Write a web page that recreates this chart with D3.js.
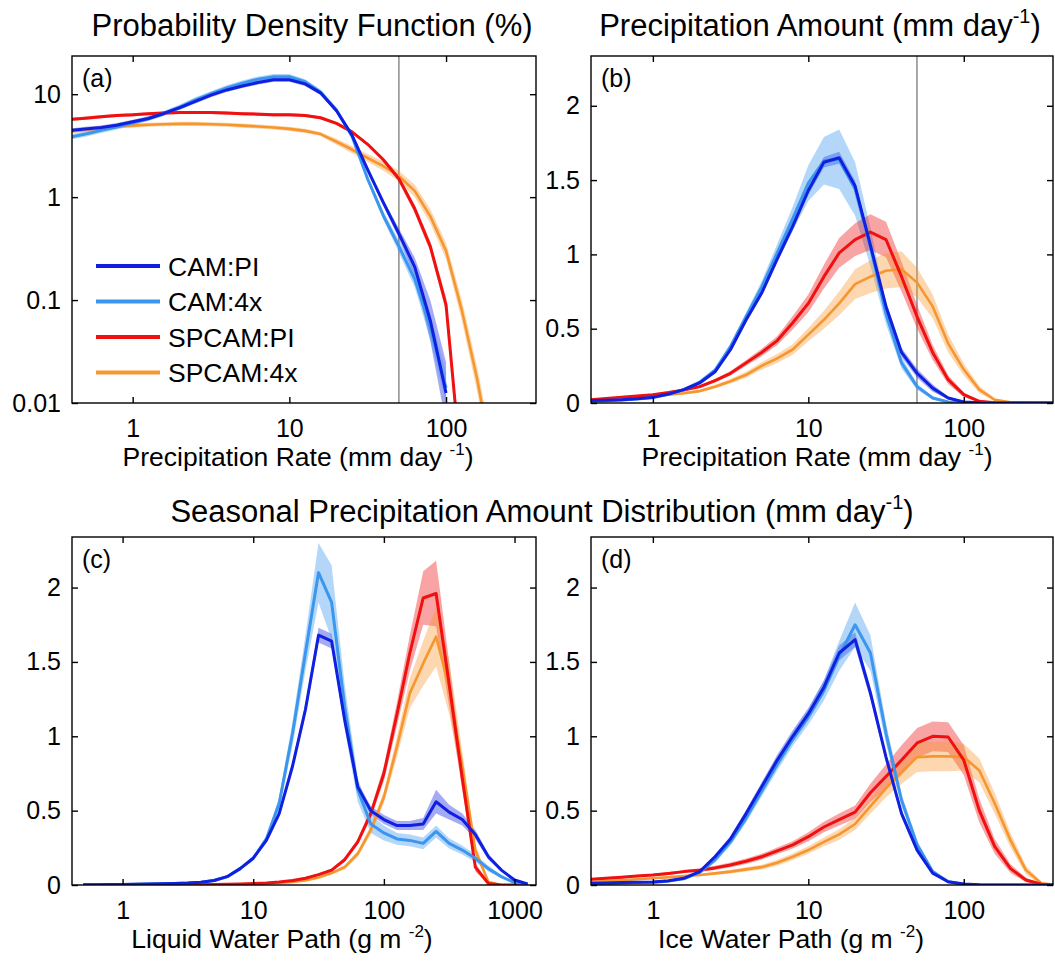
<html>
<head>
<meta charset="utf-8">
<title>Precipitation distributions</title>
<style>
  body { margin: 0; background: #fff; }
  text { font-family: "Liberation Sans", Arial, Helvetica, sans-serif; fill: #000; }
</style>
</head>
<body>
<script src="https://cdn.jsdelivr.net/npm/d3@7"></script>
<script>
// bins (mm/day or g/m2)
var rateBins = [0.4, 0.5, 0.63, 0.79, 1, 1.26, 1.58, 2, 2.51, 3.16, 3.98, 5.01, 6.31, 7.94, 10, 12.6, 15.8, 20, 25.1, 31.6, 39.8, 50.1, 63.1, 79.4, 100, 126, 158, 200, 251, 316, 398];
var lwpBins = [0.5, 0.63, 0.79, 1, 1.26, 1.58, 2, 2.51, 3.16, 3.98, 5.01, 6.31, 7.94, 10, 12.6, 15.8, 20, 25.1, 31.6, 39.8, 50.1, 63.1, 79.4, 100, 126, 158, 200, 251, 316, 398, 501, 631, 794, 1000, 1259];

var seriesNames = ["CAM:PI", "CAM:4x", "SPCAM:PI", "SPCAM:4x"];
var seriesColors = ["#1020e0", "#3a96ee", "#f01010", "#f7962f"];

// (a) PDF (%) - spread in decades
var pdfCamPI = [4.45, 4.6, 4.75, 5.0, 5.4, 5.8, 6.5, 7.4, 8.5, 9.8, 11.0, 12.0, 13.0, 13.8, 13.8, 12.6, 10.3, 6.9, 4.0, 1.85, 0.885, 0.44, 0.21, 0.063, 0.0125, null, null, null, null, null, null];
var pdfCam4x = [3.84, 4.1, 4.45, 4.8, 5.25, 5.8, 6.5, 7.5, 8.8, 10.1, 11.5, 12.8, 14.0, 14.8, 14.8, 13.2, 10.5, 7.0, 3.9, 1.5, 0.66, 0.33, 0.16, 0.054, 0.014, null, null, null, null, null, null];
var pdfSpPI = [5.7, 5.85, 6.05, 6.2, 6.3, 6.45, 6.55, 6.65, 6.65, 6.65, 6.55, 6.45, 6.4, 6.3, 6.3, 6.2, 5.9, 5.2, 4.3, 3.26, 2.31, 1.5, 0.77, 0.33, 0.09, 0.002, null, null, null, null, null];
var pdfSp4x = [4.35, 4.5, 4.7, 4.85, 4.95, 5.05, 5.1, 5.15, 5.15, 5.1, 5.05, 4.95, 4.85, 4.75, 4.6, 4.4, 4.1, 3.45, 2.9, 2.4, 2.0, 1.6, 1.15, 0.65, 0.3, 0.08, 0.017, 0.0025, null, null, null];
var pdfCamPISd = [0.02, 0.02, 0.02, 0.02, 0.02, 0.02, 0.02, 0.02, 0.02, 0.02, 0.02, 0.02, 0.02, 0.02, 0.02, 0.02, 0.02, 0.02, 0.02, 0.02, 0.03, 0.05, 0.09, 0.2, 0.3, 0, 0, 0, 0, 0, 0];
var pdfCam4xSd = [0.025, 0.025, 0.025, 0.025, 0.025, 0.025, 0.025, 0.025, 0.025, 0.025, 0.025, 0.025, 0.025, 0.025, 0.025, 0.025, 0.025, 0.025, 0.025, 0.03, 0.04, 0.06, 0.08, 0.12, 0.15, 0, 0, 0, 0, 0, 0];
var pdfSpPISd = [0.015, 0.015, 0.015, 0.015, 0.015, 0.015, 0.015, 0.015, 0.015, 0.015, 0.015, 0.015, 0.015, 0.015, 0.015, 0.015, 0.015, 0.015, 0.015, 0.015, 0.02, 0.03, 0.04, 0.05, 0.07, 0.1, 0, 0, 0, 0, 0];
var pdfSp4xSd = [0.02, 0.02, 0.02, 0.02, 0.02, 0.02, 0.02, 0.02, 0.02, 0.02, 0.02, 0.02, 0.02, 0.02, 0.02, 0.02, 0.02, 0.03, 0.035, 0.04, 0.045, 0.05, 0.06, 0.07, 0.08, 0.1, 0.12, 0.15, 0, 0, 0];

// (b) precipitation amount (mm/day)
var amtCamPI = [0.016, 0.019, 0.022, 0.029, 0.038, 0.06, 0.09, 0.135, 0.21, 0.36, 0.56, 0.74, 0.97, 1.19, 1.43, 1.62, 1.65, 1.46, 1.06, 0.65, 0.34, 0.2, 0.1, 0.034, 0.007, 0.001, 0, 0, 0, 0, 0];
var amtCam4x = [0.012, 0.015, 0.02, 0.027, 0.036, 0.058, 0.09, 0.14, 0.22, 0.38, 0.58, 0.78, 1.01, 1.24, 1.48, 1.63, 1.64, 1.44, 1.05, 0.6, 0.27, 0.11, 0.034, 0.007, 0.001, 0, 0, 0, 0, 0, 0];
var amtSpPI = [0.022, 0.03, 0.038, 0.047, 0.056, 0.07, 0.088, 0.11, 0.15, 0.2, 0.27, 0.34, 0.42, 0.54, 0.67, 0.85, 1.01, 1.1, 1.15, 1.1, 0.85, 0.58, 0.34, 0.157, 0.056, 0.011, 0.001, 0, 0, 0, 0];
var amtSp4x = [0.016, 0.022, 0.028, 0.036, 0.045, 0.055, 0.066, 0.08, 0.11, 0.146, 0.19, 0.25, 0.3, 0.36, 0.46, 0.56, 0.67, 0.8, 0.85, 0.89, 0.9, 0.81, 0.65, 0.4, 0.225, 0.09, 0.022, 0.005, 0.001, 0, 0];
var amtCamPISd = [0.005, 0.005, 0.005, 0.005, 0.006, 0.007, 0.008, 0.01, 0.012, 0.015, 0.02, 0.02, 0.025, 0.03, 0.03, 0.035, 0.04, 0.035, 0.03, 0.03, 0.03, 0.03, 0.025, 0.01, 0.005, 0, 0, 0, 0, 0, 0];
var amtCam4xSd = [0.004, 0.004, 0.005, 0.005, 0.006, 0.007, 0.008, 0.01, 0.015, 0.02, 0.03, 0.04, 0.06, 0.08, 0.12, 0.16, 0.2, 0.18, 0.13, 0.07, 0.04, 0.02, 0.01, 0.004, 0, 0, 0, 0, 0, 0, 0];
var amtSpPISd = [0.004, 0.004, 0.005, 0.005, 0.006, 0.007, 0.008, 0.01, 0.012, 0.015, 0.02, 0.025, 0.03, 0.045, 0.06, 0.08, 0.1, 0.11, 0.12, 0.12, 0.1, 0.08, 0.05, 0.03, 0.015, 0.005, 0, 0, 0, 0, 0];
var amtSp4xSd = [0.004, 0.004, 0.005, 0.005, 0.006, 0.007, 0.008, 0.01, 0.012, 0.015, 0.02, 0.025, 0.03, 0.035, 0.045, 0.06, 0.08, 0.1, 0.11, 0.12, 0.12, 0.1, 0.08, 0.06, 0.04, 0.025, 0.01, 0.003, 0, 0, 0];

// (c) liquid water path
var lwpCamPI = [0.002, 0.002, 0.003, 0.004, 0.005, 0.006, 0.008, 0.01, 0.013, 0.018, 0.03, 0.056, 0.11, 0.18, 0.3, 0.48, 0.8, 1.18, 1.68, 1.64, 1.11, 0.66, 0.5, 0.44, 0.4, 0.4, 0.41, 0.56, 0.49, 0.44, 0.34, 0.19, 0.1, 0.034, 0.007];
var lwpCam4x = [0.002, 0.002, 0.003, 0.004, 0.005, 0.006, 0.008, 0.01, 0.013, 0.018, 0.03, 0.056, 0.11, 0.18, 0.31, 0.55, 1.02, 1.56, 2.1, 1.9, 1.2, 0.64, 0.41, 0.35, 0.31, 0.3, 0.28, 0.36, 0.28, 0.235, 0.18, 0.11, 0.056, 0.016, 0.005];
var lwpSpPI = [0, 0, 0, 0, 0, 0.001, 0.001, 0.002, 0.002, 0.003, 0.004, 0.005, 0.007, 0.01, 0.014, 0.02, 0.03, 0.045, 0.07, 0.1, 0.17, 0.29, 0.48, 0.75, 1.15, 1.56, 1.93, 1.96, 1.35, 0.72, 0.12, 0.01, 0, 0, 0];
var lwpSp4x = [0, 0, 0, 0, 0, 0, 0.001, 0.001, 0.002, 0.002, 0.003, 0.004, 0.005, 0.007, 0.01, 0.014, 0.02, 0.03, 0.05, 0.08, 0.12, 0.21, 0.37, 0.59, 0.93, 1.29, 1.49, 1.67, 1.33, 0.8, 0.235, 0.02, 0, 0, 0];
var lwpCamPISd = [0.001, 0.001, 0.001, 0.001, 0.001, 0.001, 0.002, 0.002, 0.002, 0.003, 0.004, 0.006, 0.008, 0.01, 0.015, 0.02, 0.03, 0.04, 0.05, 0.05, 0.04, 0.03, 0.03, 0.03, 0.03, 0.03, 0.04, 0.08, 0.05, 0.04, 0.03, 0.02, 0.01, 0.005, 0.002];
var lwpCam4xSd = [0.001, 0.001, 0.001, 0.001, 0.001, 0.001, 0.002, 0.002, 0.002, 0.003, 0.004, 0.006, 0.008, 0.01, 0.02, 0.04, 0.08, 0.12, 0.2, 0.25, 0.15, 0.08, 0.06, 0.05, 0.04, 0.04, 0.04, 0.04, 0.035, 0.03, 0.025, 0.02, 0.01, 0.005, 0.002];
var lwpSpPISd = [0, 0, 0, 0, 0, 0, 0, 0, 0, 0, 0, 0, 0.001, 0.002, 0.003, 0.004, 0.005, 0.006, 0.008, 0.01, 0.015, 0.02, 0.03, 0.05, 0.08, 0.12, 0.18, 0.22, 0.15, 0.08, 0.03, 0.005, 0, 0, 0];
var lwpSp4xSd = [0, 0, 0, 0, 0, 0, 0, 0, 0, 0, 0, 0, 0.001, 0.001, 0.002, 0.003, 0.004, 0.005, 0.007, 0.01, 0.015, 0.02, 0.03, 0.04, 0.07, 0.1, 0.15, 0.2, 0.18, 0.1, 0.04, 0.005, 0, 0, 0];

// (d) ice water path
var iwpCamPI = [0.012, 0.014, 0.016, 0.018, 0.02, 0.028, 0.045, 0.09, 0.19, 0.31, 0.48, 0.66, 0.84, 1.0, 1.15, 1.33, 1.56, 1.65, 1.29, 0.86, 0.48, 0.235, 0.08, 0.022, 0.007, 0.002, 0, 0, 0, 0, 0];
var iwpCam4x = [0.01, 0.012, 0.014, 0.016, 0.018, 0.026, 0.042, 0.085, 0.17, 0.29, 0.45, 0.63, 0.81, 0.98, 1.13, 1.31, 1.54, 1.75, 1.56, 1.02, 0.57, 0.27, 0.09, 0.022, 0.005, 0.001, 0, 0, 0, 0, 0];
var iwpSpPI = [0.038, 0.045, 0.052, 0.06, 0.067, 0.078, 0.09, 0.1, 0.115, 0.135, 0.16, 0.19, 0.23, 0.27, 0.325, 0.39, 0.44, 0.49, 0.62, 0.73, 0.84, 0.955, 1.0, 0.995, 0.84, 0.5, 0.26, 0.11, 0.034, 0.005, 0];
var iwpSp4x = [0.02, 0.026, 0.032, 0.039, 0.045, 0.052, 0.06, 0.067, 0.078, 0.09, 0.105, 0.12, 0.15, 0.19, 0.235, 0.29, 0.34, 0.41, 0.53, 0.65, 0.76, 0.86, 0.865, 0.865, 0.86, 0.77, 0.55, 0.3, 0.1, 0.012, 0];
var iwpCamPISd = [0.004, 0.004, 0.004, 0.004, 0.005, 0.006, 0.008, 0.01, 0.015, 0.02, 0.025, 0.03, 0.035, 0.04, 0.04, 0.045, 0.05, 0.05, 0.04, 0.03, 0.025, 0.02, 0.01, 0.005, 0, 0, 0, 0, 0, 0, 0];
var iwpCam4xSd = [0.004, 0.004, 0.004, 0.004, 0.005, 0.006, 0.008, 0.012, 0.02, 0.025, 0.03, 0.035, 0.04, 0.045, 0.05, 0.07, 0.1, 0.15, 0.12, 0.07, 0.04, 0.03, 0.015, 0.005, 0, 0, 0, 0, 0, 0, 0];
var iwpSpPISd = [0.008, 0.008, 0.008, 0.008, 0.009, 0.01, 0.01, 0.012, 0.014, 0.016, 0.018, 0.02, 0.022, 0.025, 0.03, 0.035, 0.04, 0.045, 0.06, 0.08, 0.1, 0.1, 0.1, 0.1, 0.1, 0.08, 0.05, 0.03, 0.015, 0.005, 0];
var iwpSp4xSd = [0.005, 0.005, 0.006, 0.006, 0.007, 0.008, 0.008, 0.009, 0.01, 0.012, 0.014, 0.016, 0.02, 0.022, 0.025, 0.03, 0.035, 0.04, 0.05, 0.06, 0.08, 0.1, 0.1, 0.1, 0.09, 0.08, 0.07, 0.05, 0.03, 0.01, 0];

var logTicks = [0.01, 0.1, 1, 10];
var linTicks = [0, 0.5, 1, 1.5, 2];

var width = 1055, height = 963;
var svg = d3.select("body").append("svg")
  .attr("width", width)
  .attr("height", height);

var panels = [
  { tag: "(a)", left: 72, right: 536, top: 56, bottom: 403, xDom: [0.41, 375], xTicks: [1, 10, 100],
    logY: true, yDom: [0.01, 23.5], yTicks: logTicks, bins: rateBins, refLine: 50,
    values: [pdfCamPI, pdfCam4x, pdfSpPI, pdfSp4x], spread: [pdfCamPISd, pdfCam4xSd, pdfSpPISd, pdfSp4xSd],
    xLabel: ["Precipitation Rate (mm day ", "-1", ")"], xLabelX: 298 },
  { tag: "(b)", left: 591, right: 1053, top: 56, bottom: 403, xDom: [0.4, 375], xTicks: [1, 10, 100],
    logY: false, yDom: [0, 2.335], yTicks: linTicks, bins: rateBins, refLine: 50,
    values: [amtCamPI, amtCam4x, amtSpPI, amtSp4x], spread: [amtCamPISd, amtCam4xSd, amtSpPISd, amtSp4xSd],
    xLabel: ["Precipitation Rate (mm day ", "-1", ")"], xLabelX: 817 },
  { tag: "(c)", left: 72, right: 536, top: 537, bottom: 885, xDom: [0.41, 1460], xTicks: [1, 10, 100, 1000],
    logY: false, yDom: [0, 2.34], yTicks: linTicks, bins: lwpBins, refLine: null,
    values: [lwpCamPI, lwpCam4x, lwpSpPI, lwpSp4x], spread: [lwpCamPISd, lwpCam4xSd, lwpSpPISd, lwpSp4xSd],
    xLabel: ["Liquid Water Path (g m ", "-2", ")"], xLabelX: 282 },
  { tag: "(d)", left: 591, right: 1053, top: 537, bottom: 885, xDom: [0.4, 375], xTicks: [1, 10, 100],
    logY: false, yDom: [0, 2.34], yTicks: linTicks, bins: rateBins, refLine: null,
    values: [iwpCamPI, iwpCam4x, iwpSpPI, iwpSp4x], spread: [iwpCamPISd, iwpCam4xSd, iwpSpPISd, iwpSp4xSd],
    xLabel: ["Ice Water Path (g m ", "-2", ")"], xLabelX: 791 }
];

// text with a superscript piece
function supText(x, y, size, parts, anchor) {
  var t = svg.append("text")
    .attr("x", x).attr("y", y)
    .attr("font-size", size)
    .attr("text-anchor", anchor || "middle");
  var sup = Math.round(size * 0.65), lift = Math.round(size * 0.42);
  t.append("tspan").text(parts[0]);
  t.append("tspan").attr("font-size", sup).attr("dy", -lift).text(parts[1]);
  t.append("tspan").attr("dy", lift).text(parts[2]);
  return t;
}

panels.forEach(function(p, pi) {
  var x = d3.scaleLog().domain(p.xDom).range([p.left, p.right]);
  var y = (p.logY ? d3.scaleLog() : d3.scaleLinear()).domain(p.yDom).range([p.bottom, p.top]);

  var clipId = "clip" + pi;
  svg.append("clipPath").attr("id", clipId)
    .append("rect")
    .attr("x", p.left).attr("y", p.top)
    .attr("width", p.right - p.left).attr("height", p.bottom - p.top);

  var g = svg.append("g").attr("clip-path", "url(#" + clipId + ")");

  // reference line at 50 mm/day
  if (p.refLine) {
    g.append("line")
      .attr("x1", x(p.refLine)).attr("x2", x(p.refLine))
      .attr("y1", p.top).attr("y2", p.bottom)
      .attr("stroke", "#8c8c8c").attr("stroke-width", 1.5);
  }

  function rows(k) {
    return p.bins.map(function(b, i) {
      var v = p.values[k][i], s = p.spread[k][i];
      var lo, hi;
      if (v == null) { lo = hi = null; }
      else if (p.logY) { lo = v / Math.pow(10, s); hi = v * Math.pow(10, s); }
      else { lo = Math.max(0, v - s); hi = v + s; }
      return { x: b, v: v, lo: lo, hi: hi };
    });
  }

  var area = d3.area()
    .defined(function(d) { return d.v != null; })
    .x(function(d) { return x(d.x); })
    .y0(function(d) { return y(p.logY ? Math.max(d.lo, 1e-4) : d.lo); })
    .y1(function(d) { return y(p.logY ? Math.max(d.hi, 1e-4) : d.hi); });

  var line = d3.line()
    .defined(function(d) { return d.v != null; })
    .x(function(d) { return x(d.x); })
    .y(function(d) { return y(p.logY ? Math.max(d.v, 1e-4) : d.v); });

  var order = [0, 1, 2, 3];
  order.forEach(function(k) {
    g.append("path")
      .datum(rows(k))
      .attr("d", area)
      .attr("fill", seriesColors[k])
      .attr("fill-opacity", 0.38)
      .attr("stroke", "none");
  });
  [3, 2, 1, 0].forEach(function(k) {
    g.append("path")
      .datum(rows(k))
      .attr("d", line)
      .attr("fill", "none")
      .attr("stroke", seriesColors[k])
      .attr("stroke-width", k == 3 ? 2.6 : 3)
      .attr("stroke-linejoin", "round");
  });

  // axes, ticks pointing inwards on all four sides
  var fmt = function(d) { return String(d); };
  var ax = [
    svg.append("g").attr("transform", "translate(0," + p.bottom + ")")
      .call(d3.axisBottom(x).tickValues(p.xTicks).tickFormat(fmt).tickSize(-6).tickSizeOuter(0).tickPadding(16)),
    svg.append("g").attr("transform", "translate(0," + p.top + ")")
      .call(d3.axisTop(x).tickValues(p.xTicks).tickFormat("").tickSize(-6).tickSizeOuter(0)),
    svg.append("g").attr("transform", "translate(" + p.left + ",0)")
      .call(d3.axisLeft(y).tickValues(p.yTicks).tickFormat(fmt).tickSize(-6).tickSizeOuter(0).tickPadding(11)),
    svg.append("g").attr("transform", "translate(" + p.right + ",0)")
      .call(d3.axisRight(y).tickValues(p.yTicks).tickFormat("").tickSize(-6).tickSizeOuter(0))
  ];
  ax.forEach(function(a) {
    a.attr("font-size", 25).attr("font-family", null);
    a.select(".domain").remove();
    a.selectAll("line").attr("stroke", "#000").attr("stroke-width", 1.4);
    a.selectAll("text").attr("fill", "#000");
  });

  svg.append("rect")
    .attr("x", p.left).attr("y", p.top)
    .attr("width", p.right - p.left).attr("height", p.bottom - p.top)
    .attr("fill", "none").attr("stroke", "#000").attr("stroke-width", 1.4);

  svg.append("text")
    .attr("x", p.left + 10).attr("y", p.top + 31)
    .attr("font-size", 25)
    .text(p.tag);

  supText(p.xLabelX, p.bottom + 63, 26.5, p.xLabel);
});

// titles
svg.append("text").attr("x", 312).attr("y", 36).attr("font-size", 31)
  .attr("text-anchor", "middle").text("Probability Density Function (%)");
supText(820, 36, 31, ["Precipitation Amount (mm day", "-1", ")"]);
supText(542, 522, 31, ["Seasonal Precipitation Amount Distribution (mm day", "-1", ")"]);

// legend in panel (a)
var legend = svg.append("g");
seriesNames.forEach(function(name, k) {
  var ly = 266 + k * 35.5;
  legend.append("line")
    .attr("x1", 96).attr("x2", 160).attr("y1", ly).attr("y2", ly)
    .attr("stroke", seriesColors[k]).attr("stroke-width", 4);
  legend.append("text")
    .attr("x", 168).attr("y", ly).attr("dy", "0.36em")
    .attr("font-size", 26.5)
    .text(name);
});
</script>
</body>
</html>
